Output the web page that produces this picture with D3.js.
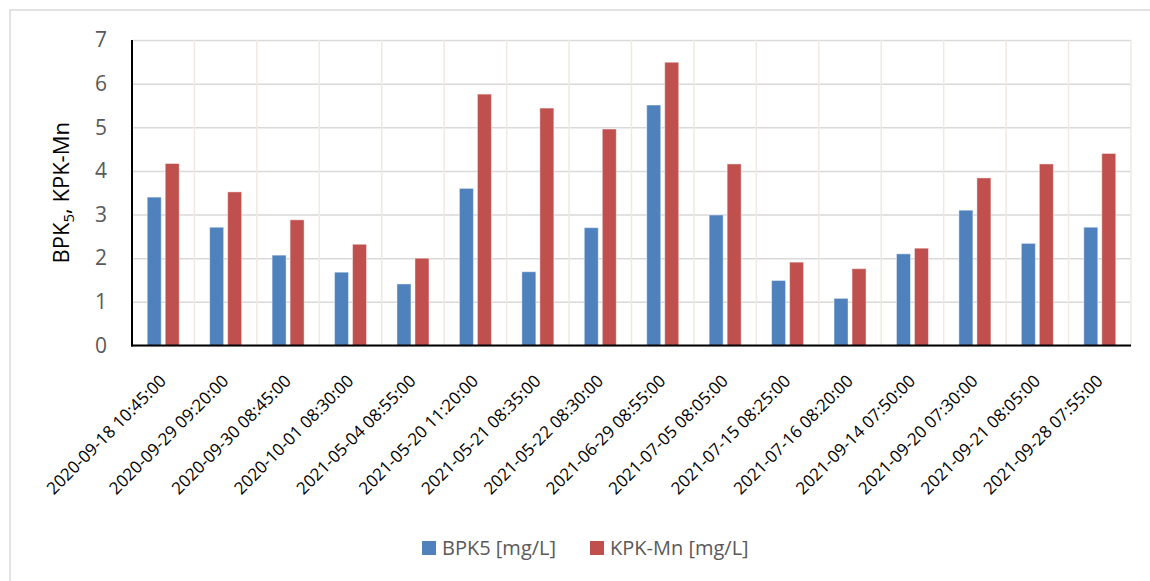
<!DOCTYPE html>
<html>
<head>
<meta charset="utf-8">
<script src="https://cdn.jsdelivr.net/npm/d3@7/dist/d3.min.js"></script>
<style>
  html, body { margin: 0; padding: 0; background: #fff; }
  svg { display: block; font-family: "Open Sans", "Noto Sans", sans-serif; }
</style>
</head>
<body>
<svg id="chart" width="1150" height="581"></svg>
<script>
// Sampling times
const categories = [
  "2020-09-18 10:45:00", "2020-09-29 09:20:00", "2020-09-30 08:45:00",
  "2020-10-01 08:30:00", "2021-05-04 08:55:00", "2021-05-20 11:20:00",
  "2021-05-21 08:35:00", "2021-05-22 08:30:00", "2021-06-29 08:55:00",
  "2021-07-05 08:05:00", "2021-07-15 08:25:00", "2021-07-16 08:20:00",
  "2021-09-14 07:50:00", "2021-09-20 07:30:00", "2021-09-21 08:05:00",
  "2021-09-28 07:55:00"
];
// BPK5 [mg/L]
const bpk5 = [3.40, 2.71, 2.07, 1.68, 1.41, 3.60, 1.69, 2.70, 5.51, 2.99, 1.49, 1.08, 2.10, 3.10, 2.34, 2.71];
// KPK-Mn [mg/L]
const kpkMn = [4.17, 3.52, 2.88, 2.32, 2.00, 5.76, 5.44, 4.96, 6.49, 4.16, 1.91, 1.76, 2.23, 3.84, 4.16, 4.40];
const seriesNames = ["BPK5 [mg/L]", "KPK-Mn [mg/L]"];
const seriesColors = ["#4f81bd", "#c0504d"];
const yTicks = [0, 1, 2, 3, 4, 5, 6, 7];

const rows = categories.map((c, i) => ({ cat: c, values: [bpk5[i], kpkMn[i]] }));

const svg = d3.select("#chart");
const plotLeft = 132, plotRight = 1131, plotTop = 40, plotBottom = 345.5;

// chart frame
svg.append("rect")
  .attr("x", 10).attr("y", 10).attr("width", 1160).attr("height", 600)
  .attr("fill", "none").attr("stroke", "#d9d9d9").attr("stroke-width", 1.5);

const x = d3.scaleBand().domain(categories).range([plotLeft, plotRight]).padding(0);
const y = d3.scaleLinear().domain([0, 7]).range([plotBottom, plotTop]);
const bw = x.bandwidth();
const x1 = d3.scaleBand().domain(d3.range(2)).range([0, bw])
  .paddingInner(0.222).paddingOuter(0.845);

// horizontal gridlines
svg.append("g")
  .attr("transform", `translate(${plotLeft},0)`)
  .call(d3.axisLeft(y).tickValues(yTicks).tickSize(-(plotRight - plotLeft)).tickFormat(""))
  .call(g => g.select(".domain").remove())
  .call(g => g.selectAll(".tick line").attr("stroke", "#d9d9d9").attr("stroke-width", 1.5));

// vertical gridlines at category boundaries
svg.append("g")
  .selectAll("line")
  .data(categories)
  .join("line")
  .attr("x1", d => x(d) + x.step()).attr("x2", d => x(d) + x.step())
  .attr("y1", plotTop).attr("y2", plotBottom)
  .attr("stroke", "#eeeadf").attr("stroke-width", 1.5);

// bars
const groups = svg.append("g").selectAll("g")
  .data(rows)
  .join("g")
  .attr("transform", d => `translate(${x(d.cat)},0)`);
groups.selectAll("rect")
  .data(d => d.values.map((v, k) => ({ v, k })))
  .join("rect")
  .attr("x", d => x1(d.k))
  .attr("width", x1.bandwidth())
  .attr("y", d => y(d.v))
  .attr("height", d => y(0) - y(d.v))
  .attr("fill", d => seriesColors[d.k])
  .attr("stroke", "rgba(255,255,255,0.45)")
  .attr("stroke-width", 1);

// y tick labels
svg.append("g")
  .attr("transform", `translate(107,0)`)
  .call(d3.axisLeft(y).tickValues(yTicks).tickSize(0).tickPadding(0).tickFormat(d3.format("d")))
  .call(g => g.select(".domain").remove())
  .call(g => g.selectAll(".tick text")
    .attr("fill", "#595959").attr("font-size", 21)
    .attr("font-family", "'Open Sans', sans-serif"));

// axis lines
svg.append("line").attr("x1", plotLeft).attr("x2", plotLeft).attr("y1", plotTop).attr("y2", plotBottom + 1)
  .attr("stroke", "#000").attr("stroke-width", 2);
svg.append("line").attr("x1", plotLeft - 1).attr("x2", plotRight).attr("y1", plotBottom).attr("y2", plotBottom)
  .attr("stroke", "#000").attr("stroke-width", 2);

// x tick labels, rotated
svg.append("g").selectAll("text")
  .data(categories)
  .join("text")
  .attr("transform", d => `translate(${x(d) + bw / 2 + 4},382) rotate(-45)`)
  .attr("text-anchor", "end")
  .attr("font-size", 17)
  .attr("fill", "#000")
  .text(d => d);

// y axis title with subscript
const title = svg.append("text")
  .attr("transform", `translate(69,${(plotTop + plotBottom) / 2}) rotate(-90)`)
  .attr("text-anchor", "middle")
  .attr("font-size", 22)
  .attr("fill", "#000");
title.append("tspan").text("BPK");
title.append("tspan").attr("font-size", 15).attr("dy", 5).text("5");
title.append("tspan").attr("dy", -5).text(", KPK-Mn");

// legend
const legendX = [422, 590];
const legend = svg.append("g").selectAll("g")
  .data(seriesNames)
  .join("g")
  .attr("transform", (d, i) => `translate(${legendX[i]},541)`);
legend.append("rect")
  .attr("width", 14).attr("height", 14)
  .attr("fill", (d, i) => seriesColors[i]);
legend.append("text")
  .attr("x", 20).attr("y", 14)
  .attr("font-size", 20)
  .attr("fill", "#595959")
  .text(d => d);
</script>
</body>
</html>
